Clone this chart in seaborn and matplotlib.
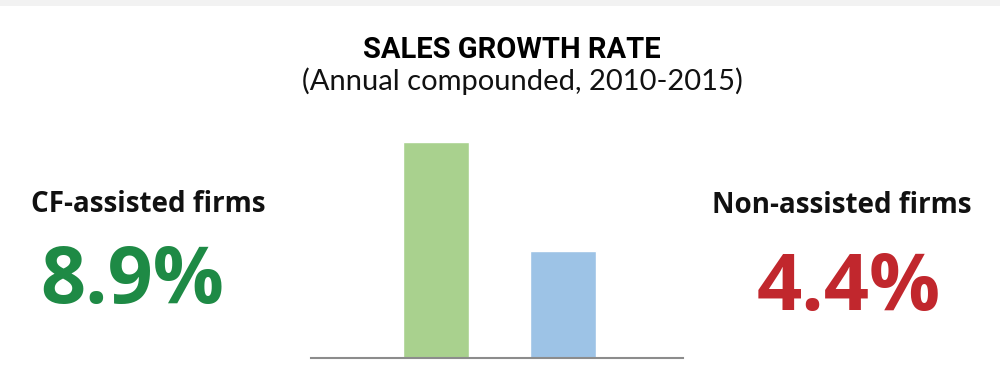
import matplotlib
matplotlib.use("Agg")
import matplotlib.pyplot as plt
import seaborn as sns
import pandas as pd
from matplotlib.patches import Rectangle

groups = ["CF-assisted firms", "Non-assisted firms"]
growth = [8.9, 4.4]
bar_colors = ["#a9d18e", "#9dc3e6"]
value_labels = ["8.9%", "4.4%"]
value_colors = ["#1e8a45", "#c1272d"]
title = "SALES GROWTH RATE"
subtitle = "(Annual compounded, 2010-2015)"

sns.set_theme(style="white")
plt.rcParams["font.family"] = ["Open Sans", "DejaVu Sans"]

df = pd.DataFrame({"group": groups, "growth": growth})

fig = plt.figure(figsize=(10, 3.88), dpi=100)
fig.patch.set_facecolor("white")
fig.patches.append(Rectangle((0, 0.985), 1, 0.015, transform=fig.transFigure,
                             facecolor="#f2f2f2", edgecolor="none"))

ax = fig.add_axes([0.311, 0.0773, 0.372, 0.626])
sns.barplot(data=df, x="group", y="growth", hue="group", palette=bar_colors,
            width=0.52, legend=False, ax=ax, saturation=1)
ax.set_xlim(-0.984, 1.945)
ax.set_ylim(0, 10)
ax.set_xticks([])
ax.set_yticks([])
ax.set_xlabel("")
ax.set_ylabel("")
for s in ["left", "right", "top"]:
    ax.spines[s].set_visible(False)
ax.spines["bottom"].set_color("#8c8c8c")
ax.spines["bottom"].set_linewidth(1.5)
ax.patch.set_alpha(0)

fig.text(0.512, 0.851, title, ha="center", va="baseline", fontsize=21,
         fontweight="bold", fontstretch="condensed",
         family=["Roboto", "DejaVu Sans"], color="black")
fig.text(0.522, 0.768, subtitle, ha="center", va="baseline", fontsize=21,
         fontweight="normal", family=["Lato", "DejaVu Sans"], color="#111111")

fig.text(0.148, 0.4536, groups[0], ha="center", va="baseline", fontsize=20,
         fontweight="bold", color="#111111")
fig.text(0.842, 0.451, groups[1], ha="center", va="baseline", fontsize=20,
         fontweight="bold", color="#111111")
fig.text(0.132, 0.219, value_labels[0], ha="center", va="baseline", fontsize=57,
         fontweight="bold", color=value_colors[0])
fig.text(0.849, 0.201, value_labels[1], ha="center", va="baseline", fontsize=57,
         fontweight="bold", color=value_colors[1])

fig.savefig("out.png", dpi=100)
